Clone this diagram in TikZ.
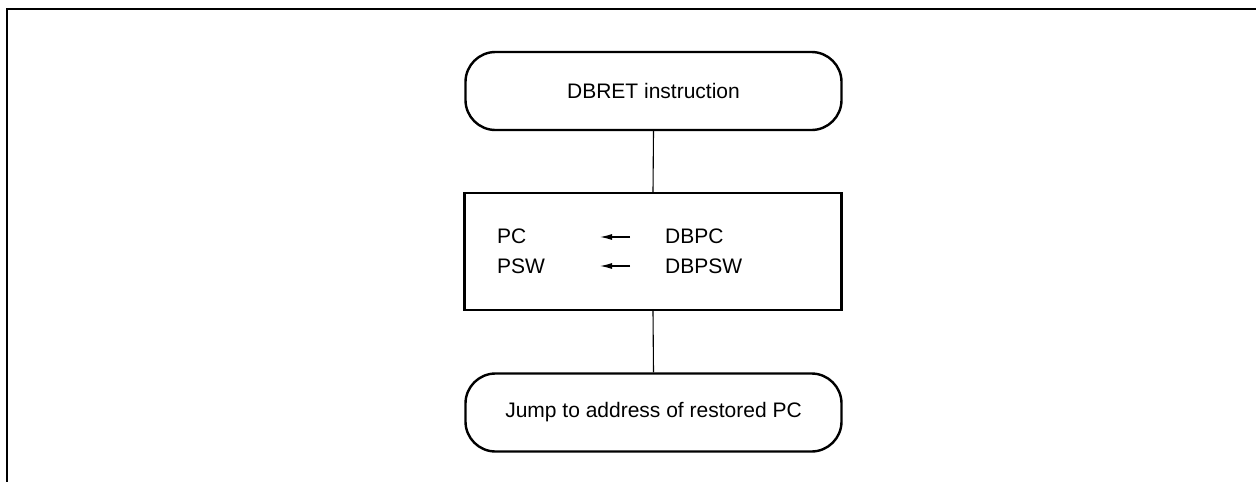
\documentclass[tikz,border=0pt]{standalone}
\usepackage{fontspec}
\setmainfont{Liberation Sans}
\usetikzlibrary{arrows.meta}
\begin{document}
\begin{tikzpicture}[x=1pt,y=-1pt,
  term/.style={draw,line width=2.4pt,rounded corners=30pt,minimum width=376pt,minimum height=78pt,inner sep=0pt,font=\fontsize{21}{25}\selectfont},
  procbox/.style={draw,line width=2.4pt,minimum width=377pt,minimum height=117pt,inner sep=0pt},
  lbl/.style={anchor=west,inner sep=0pt,font=\fontsize{21}{25}\selectfont},
  conn/.style={line width=1.1pt},
  frame/.style={line width=2.6pt}]
\useasboundingbox (0,0) rectangle (1256,482);
\draw[frame] (7,490) -- (7,9) -- (1260,9);
\node[term] (t1) at (653.5,91) {DBRET instruction};
\node[procbox] (b) at (653,251.5) {};
\node[lbl] (pc) at (497,236) {PC};
\node[lbl] (psw) at (497,266) {PSW};
\node[lbl] (dbpc) at (665,236) {DBPC};
\node[lbl] (dbpsw) at (665,266) {DBPSW};
\coordinate (a1s) at (630,237);
\coordinate (a1e) at (600,237);
\coordinate (a2s) at (630,266);
\coordinate (a2e) at (600,266);
\draw[conn,-{Latex[length=12pt,width=6pt]}] (a1s) -- (a1e);
\draw[conn,-{Latex[length=12pt,width=6pt]}] (a2s) -- (a2e);
\node[term] (t2) at (653.5,412.5) {Jump to address of restored PC};
\draw[conn] (t1.south) -- (b.north);
\draw[conn] (b.south) -- (t2.north);
\end{tikzpicture}
\end{document}
